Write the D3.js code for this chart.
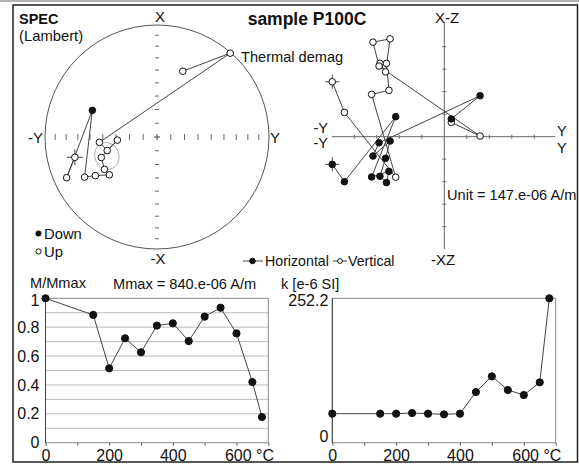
<!DOCTYPE html>
<html><head><meta charset="utf-8">
<script src="https://cdn.jsdelivr.net/npm/d3@7/dist/d3.min.js"></script>
<style>
body{margin:0;background:#fff}
text{font-family:Arial,"Liberation Sans",sans-serif;fill:#111}
</style>
</head><body>
<svg id="c" width="579" height="466"></svg>
<script>
// ---- data ----
const steps = [0,150,200,250,300,350,400,450,500,550,600,650,680];          // demag temperature, °C
// magnetisation components in plot units (1 unit = 147e-06 A/m)
const compX = [-1.23,-2.00,0.89,-1.79,-1.54,-2.04,-1.76,-0.96,-0.19,-0.86,-0.27,1.82,0.79];
const compY = [-4.98,-4.44,-2.16,-3.23,-2.46,-2.57,-2.86,-2.61,-2.41,-3.17,-2.90,1.59,0.31];
const compZ = [-2.44,-1.08,1.80,-1.88,-2.06,-3.26,-3.26,-2.88,-4.35,-4.20,-3.14,-0.03,-0.64];
const mNorm = [1.0,0.885,0.515,0.723,0.626,0.811,0.827,0.704,0.873,0.935,0.757,0.420,0.178];
const kVals = [50.7,50.7,50.7,51.8,50.7,49.5,50.7,88.5,115.9,92.0,83.3,105.4,252.2];
const meanDir = {dec:249.3, inc:-50.3, a95:9.2};
const tempTicks = [0,100,200,300,400,500,600,700];
const tempLabels = [0,200,400,600];
const mTicks = [0,0.2,0.4,0.6,0.8,1];
const kTicks = [0,252.2];
const zijTicks = [-4,-3,-2,-1,1,2,3,4];
const incTicks = [80,70,60,50,40,30,20,10];

const svg = d3.select("#c");
const ink = "#111", lineCol = "#444", axisCol = "#666";

// frame
svg.append("line").attr("x1",0).attr("x2",579).attr("y1",1).attr("y2",1).attr("stroke","#999").attr("stroke-width",1.5);
svg.append("rect").attr("x",13).attr("y",5).attr("width",564.5).attr("height",457)
  .attr("fill","none").attr("stroke","#222").attr("stroke-width",1.5);

function marker(g, x, y, filled, r){
  g.append("circle").attr("cx",x).attr("cy",y).attr("r",r||3.3)
    .attr("fill",filled?ink:"#fff").attr("stroke",ink).attr("stroke-width",1);
}
function cross(g,x,y,s){
  g.append("line").attr("x1",x-s).attr("x2",x+s).attr("y1",y).attr("y2",y).attr("stroke",lineCol);
  g.append("line").attr("x1",x).attr("x2",x).attr("y1",y-s).attr("y2",y+s).attr("stroke",lineCol);
}

// ---------------- Stereonet (Lambert) ----------------
const st = {cx:157, cy:137, R:112};
const rScale = d3.scaleLinear().domain([0,1]).range([0,st.R]);
const rad = Math.PI/180;
function eqArea(inc){ return Math.SQRT2*Math.sin((90-Math.abs(inc))/2*rad); }
function proj(decDeg, incDeg){
  const r = rScale(eqArea(incDeg));
  return [st.cx + r*Math.sin(decDeg*rad), st.cy - r*Math.cos(decDeg*rad)];
}
const dirs = steps.map((s,i)=>{
  const h = Math.hypot(compX[i],compY[i]);
  return {dec: Math.atan2(compY[i],compX[i])/rad, inc: Math.atan2(compZ[i],h)/rad};
});
const gS = svg.append("g");
gS.append("circle").attr("cx",st.cx).attr("cy",st.cy).attr("r",st.R).attr("fill","none").attr("stroke","#555").attr("stroke-width",1);
incTicks.forEach(t=>{
  const r = rScale(eqArea(t));
  [-1,1].forEach(sg=>{
    gS.append("line").attr("x1",st.cx+sg*r).attr("x2",st.cx+sg*r).attr("y1",st.cy-3).attr("y2",st.cy+3).attr("stroke","#666");
    gS.append("line").attr("x1",st.cx-2).attr("x2",st.cx+2).attr("y1",st.cy+sg*r).attr("y2",st.cy+sg*r).attr("stroke","#666");
  });
});
cross(gS, st.cx, st.cy, 3);
// alpha95 circle
(function(){
  const d=meanDir.dec*rad, i=meanDir.inc*rad, a=meanDir.a95*rad;
  const m=[Math.cos(i)*Math.cos(d), Math.cos(i)*Math.sin(d), Math.sin(i)];
  const u=[-Math.sin(i)*Math.cos(d), -Math.sin(i)*Math.sin(d), Math.cos(i)];
  const v=[-Math.sin(d), Math.cos(d), 0];
  const ring = d3.range(0,361,6).map(t=>{
    const c=Math.cos(t*rad), s=Math.sin(t*rad);
    const p=[0,1,2].map(k=>Math.cos(a)*m[k]+Math.sin(a)*(c*u[k]+s*v[k]));
    const dec=Math.atan2(p[1],p[0])/rad, inc=Math.asin(p[2])/rad;
    return proj(dec,inc);
  });
  gS.append("path").attr("d",d3.line()(ring)).attr("fill","none").attr("stroke","#aaa").attr("stroke-width",1);
})();
const sPts = dirs.map(d=>proj(d.dec,d.inc));
gS.append("path").attr("d",d3.line()(sPts)).attr("fill","none").attr("stroke",lineCol).attr("stroke-width",1);
cross(gS, sPts[0][0], sPts[0][1], 8);
sPts.forEach((p,i)=>marker(gS,p[0],p[1],dirs[i].inc>0));
gS.append("text").attr("x",160).attr("y",21.5).attr("text-anchor","middle").style("font-size","15px").text("X");
gS.append("text").attr("x",158).attr("y",264).attr("text-anchor","middle").style("font-size","15px").text("-X");
gS.append("text").attr("x",43).attr("y",143).attr("text-anchor","end").style("font-size","15px").text("-Y");
gS.append("text").attr("x",270).attr("y",143).style("font-size","15px").text("Y");
gS.append("text").attr("x",241).attr("y",61.5).style("font-size","14.6px").text("Thermal demag");
gS.append("text").attr("x",19).attr("y",23.5).style("font-size","14.5px").style("font-weight","bold").text("SPEC");
gS.append("text").attr("x",19).attr("y",40.5).style("font-size","14.8px").text("(Lambert)");
marker(gS,38.5,233.5,true,2.6);
gS.append("text").attr("x",44).attr("y",238.5).style("font-size","14.8px").text("Down");
marker(gS,38.5,251.5,false,2.6);
gS.append("text").attr("x",44).attr("y",257).style("font-size","14.8px").text("Up");

// title
svg.append("text").attr("x",307).attr("y",25).attr("text-anchor","middle")
  .style("font-size","17.5px").style("font-weight","bold").text("sample P100C");

// ---------------- Zijderveld ----------------
const zx = d3.scaleLinear().domain([-5,5]).range([331.8,556.8]);
const zy = d3.scaleLinear().domain([-5,5]).range([249.2,24.2]);
const gZ = svg.append("g");
gZ.append("line").attr("x1",zx(-5)).attr("x2",zx(4.93)).attr("y1",zy(0)).attr("y2",zy(0)).attr("stroke",axisCol);
gZ.append("line").attr("x1",zx(0)).attr("x2",zx(0)).attr("y1",zy(5.1)).attr("y2",zy(-5)).attr("stroke",axisCol);
zijTicks.forEach(t=>{
  gZ.append("line").attr("x1",zx(t)).attr("x2",zx(t)).attr("y1",zy(0)-2).attr("y2",zy(0)+2).attr("stroke",axisCol);
  gZ.append("line").attr("x1",zx(0)-2).attr("x2",zx(0)+2).attr("y1",zy(t)).attr("y2",zy(t)).attr("stroke",axisCol);
});
const hPts = steps.map((s,i)=>[zx(compY[i]), zy(compX[i])]);
const vPts = steps.map((s,i)=>[zx(compY[i]), zy(-compZ[i])]);
[hPts,vPts].forEach(P=>gZ.append("path").attr("d",d3.line()(P)).attr("fill","none").attr("stroke",lineCol));
cross(gZ,hPts[0][0],hPts[0][1],7);
cross(gZ,vPts[0][0],vPts[0][1],7);
vPts.forEach(p=>marker(gZ,p[0],p[1],false));
hPts.forEach(p=>marker(gZ,p[0],p[1],true));
gZ.append("text").attr("x",447).attr("y",23).attr("text-anchor","middle").style("font-size","15px").text("X-Z");
gZ.append("text").attr("x",443).attr("y",265).attr("text-anchor","middle").style("font-size","15px").text("-XZ");
gZ.append("text").attr("x",328).attr("y",132.5).attr("text-anchor","end").style("font-size","14.5px").text("-Y");
gZ.append("text").attr("x",328).attr("y",147.5).attr("text-anchor","end").style("font-size","14.5px").text("-Y");
gZ.append("text").attr("x",557).attr("y",136).style("font-size","14.5px").text("Y");
gZ.append("text").attr("x",557).attr("y",153).style("font-size","14.5px").text("Y");
gZ.append("text").attr("x",447).attr("y",199.5).style("font-size","14.6px").text("Unit = 147.e-06 A/m");
// legend
gZ.append("line").attr("x1",243).attr("x2",263).attr("y1",261).attr("y2",261).attr("stroke",lineCol);
marker(gZ,252.5,261,true,2.8);
gZ.append("text").attr("x",265).attr("y",266).style("font-size","14.2px").text("Horizontal");
gZ.append("line").attr("x1",333).attr("x2",347).attr("y1",261).attr("y2",261).attr("stroke",lineCol);
marker(gZ,340,261,false,2.4);
gZ.append("text").attr("x",348).attr("y",266).style("font-size","14.2px").text("Vertical");

// ---------------- bottom plots ----------------
function tempAxis(g, xs, y){
  const ax = d3.axisBottom(xs).tickValues(tempTicks).tickSize(3)
    .tickFormat(d=>tempLabels.includes(d)?String(d):"");
  const a = g.append("g").attr("transform",`translate(0,${y})`).call(ax);
  a.select(".domain").remove();
  a.selectAll("line").attr("stroke","#555");
  a.selectAll("text").style("font-size","16px").style("font-family","Arial,'Liberation Sans',sans-serif").attr("fill",ink)
    .attr("dy","0.78em");
  a.selectAll(".tick").filter(d=>d===600).select("text").text("600 °C").attr("text-anchor","start").attr("x",-12);
}
const pTop=298.3, pBot=442.7;
// M/Mmax
const mx = d3.scaleLinear().domain([0,700]).range([45.5,268.3]);
const my = d3.scaleLinear().domain([0,1]).range([pBot,pTop]);
const gM = svg.append("g");
d3.range(1,10).forEach(k=>{
  gM.append("line").attr("x1",mx(0)).attr("x2",mx(700)).attr("y1",my(k/10)).attr("y2",my(k/10)).attr("stroke","#bbb");
});
gM.append("rect").attr("x",mx(0)).attr("y",pTop).attr("width",mx(700)-mx(0)).attr("height",pBot-pTop).attr("fill","none").attr("stroke","#888");
gM.append("line").attr("x1",mx(0)).attr("x2",mx(0)).attr("y1",pTop).attr("y2",pBot).attr("stroke","#444");
const ayM = gM.append("g").attr("transform",`translate(${mx(0)-3},0)`)
  .call(d3.axisLeft(my).tickValues(mTicks).tickSize(0).tickFormat(d=>d===0?"0":d===1?"1":d.toFixed(1)));
ayM.select(".domain").remove();
ayM.selectAll("text").style("font-size","16px").style("font-family","Arial,'Liberation Sans',sans-serif").attr("fill",ink);
ayM.selectAll(".tick").filter(d=>d===1).select("text").attr("dy","0.45em");
tempAxis(gM, mx, pBot);
gM.append("path").attr("d",d3.line().x((d,i)=>mx(steps[i])).y(d=>my(d))(mNorm)).attr("fill","none").attr("stroke",lineCol);
mNorm.forEach((v,i)=>marker(gM,mx(steps[i]),my(v),true,3.6));
gM.append("text").attr("x",30).attr("y",288).style("font-size","14.6px").text("M/Mmax");
gM.append("text").attr("x",113).attr("y",289).style("font-size","14.6px").text("Mmax = 840.e-06 A/m");

// susceptibility
const kx = d3.scaleLinear().domain([0,700]).range([332.3,555.7]);
const ky = d3.scaleLinear().domain([0,252.2]).range([pBot,pTop]);
const gK = svg.append("g");
gK.append("rect").attr("x",kx(0)).attr("y",pTop).attr("width",kx(700)-kx(0)).attr("height",pBot-pTop).attr("fill","none").attr("stroke","#888");
gK.append("line").attr("x1",kx(0)).attr("x2",kx(0)).attr("y1",pTop).attr("y2",pBot).attr("stroke","#444");
const ayK = gK.append("g").attr("transform",`translate(${kx(0)-1},0)`)
  .call(d3.axisLeft(ky).tickValues(kTicks).tickSize(0).tickFormat(d=>d===0?"0":"252.2"));
ayK.select(".domain").remove();
ayK.selectAll("text").style("font-size","16px").style("font-family","Arial,'Liberation Sans',sans-serif").attr("fill",ink);
ayK.selectAll(".tick").filter(d=>d===0).select("text").attr("dy","-0.05em");
ayK.selectAll(".tick").filter(d=>d===252.2).select("text").attr("dy","0.45em");
tempAxis(gK, kx, pBot);
gK.append("path").attr("d",d3.line().x((d,i)=>kx(steps[i])).y(d=>ky(d))(kVals)).attr("fill","none").attr("stroke",lineCol);
kVals.forEach((v,i)=>marker(gK,kx(steps[i]),ky(v),true,3.6));
gK.append("text").attr("x",281).attr("y",288.5).style("font-size","14.6px").text("k [e-6 SI]");
</script>
</body></html>
